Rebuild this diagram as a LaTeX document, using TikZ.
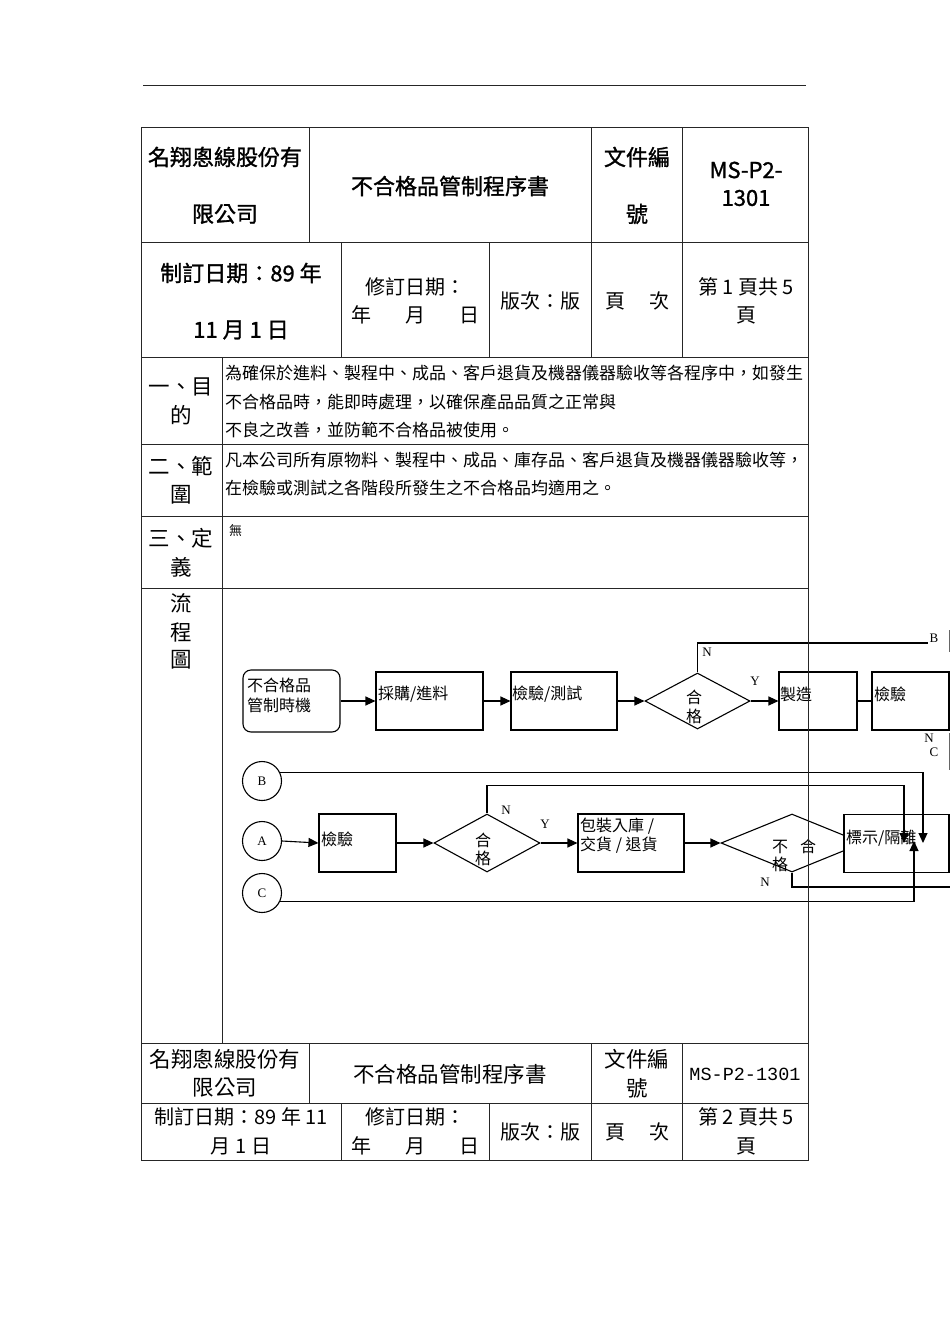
\documentclass[tikz,border=0pt]{standalone}
\usepackage{fontspec}
\setmainfont{Noto Sans CJK TC}
\newfontfamily\hdfont[FakeBold=1.2]{Noto Sans CJK TC}
\newfontfamily\lser{Liberation Serif}
\newfontfamily\lmono{Liberation Mono}
\usetikzlibrary{shapes.geometric,arrows.meta}
\begin{document}
\begin{tikzpicture}[x=1pt,y=-1pt,
  tl/.style={line width=0.9pt, draw=black!85},
  th/.style={inner sep=0pt, font=\hdfont\fontsize{22}{22}\selectfont},
  tx/.style={inner sep=0pt, font=\fontsize{21.5}{21.5}\selectfont},
  tm/.style={inner sep=0pt, font=\fontsize{20}{20}\selectfont},
  bd/.style={inner sep=0pt, anchor=west, font=\fontsize{17}{17}\selectfont},
  ft/.style={inner sep=0pt, anchor=west, font=\fontsize{16}{16}\selectfont},
  fc/.style={inner sep=0pt, font=\fontsize{16}{16}\selectfont},
  lb/.style={inner sep=0pt, font=\lser\fontsize{13}{13}\selectfont},
  bx/.style={draw, line width=1.1pt, inner sep=0pt},
  fl/.style={line width=1.1pt},
  arr/.style={line width=1.1pt, -{Triangle[length=10pt,width=9pt]}}]
\useasboundingbox (0,0) rectangle (950,1344);
\clip (0,0) rectangle (950,1344);
\fill[white] (0,0) rectangle (950,1344);

% top rule
\draw[tl] (143,85) -- (806,85);

% ---------- header row 1
\node[th] (h1a) at (225,157) {名翔悤線股份有};
\node[th] (h1b) at (225,214) {限公司};
\node[th] (h1c) at (450,186) {不合格品管制程序書};
\node[th] (h1d) at (637,157) {文件編};
\node[th] (h1e) at (637,214) {號};
\node[th] (h1f) at (746,170) {MS-P2-};
\node[th] (h1g) at (746,198) {1301};
% ---------- header row 2
\node[th] (h2a) at (241,273) {制訂日期：89 年};
\node[th] (h2b) at (241,330) {11 月 1 日};
\node[tm] (h2c) at (415,287) {修訂日期：};
\node[tm] (h2d) at (415,315) {年\hspace{34pt}月\hspace{34pt}日};
\node[tm] (h2e) at (540,301) {版次：版};
\node[tm] (h2f) at (637,301) {頁\hspace{24pt}次};
\node[tm] (h2g) at (746,287) {第 1 頁共 5};
\node[tm] (h2h) at (746,315) {頁};

% ---------- sections
\node[tx] (s1a) at (181,387) {一、目};
\node[tx] (s1b) at (181,415) {的};
\node[bd] (s1c) at (225,373) {為確保於進料、製程中、成品、客戶退貨及機器儀器驗收等各程序中，如發生};
\node[bd] (s1d) at (225,402) {不合格品時，能即時處理，以確保產品品質之正常與};
\node[bd] (s1e) at (225,430) {不良之改善，並防範不合格品被使用。};
\node[tx] (s2a) at (181,466) {二、範};
\node[tx] (s2b) at (181,495) {圍};
\node[bd] (s2c) at (225,460) {凡本公司所有原物料、製程中、成品、庫存品、客戶退貨及機器儀器驗收等，};
\node[bd] (s2d) at (225,488) {在檢驗或測試之各階段所發生之不合格品均適用之。};
\node[tx] (s3a) at (181,538) {三、定};
\node[tx] (s3b) at (181,567) {義};
\node[inner sep=0pt, anchor=west, font=\fontsize{13}{13}\selectfont] (s3c) at (229,531) {無};
\node[tx] (s4a) at (181,603) {流};
\node[tx] (s4b) at (181,632) {程};
\node[tx] (s4c) at (181,660) {圖};

% ---------- flowchart top row
\node[bx, rounded corners=8pt, minimum width=97pt, minimum height=62pt] (st) at (291.5,701) {};
\node[ft] (stt1) at (247,685) {不合格品};
\node[ft] (stt2) at (247,705) {管制時機};
\node[bx, minimum width=107pt, minimum height=58pt] (p1) at (429.5,701) {};
\node[ft] (p1t) at (378,694) {採購/進料};
\node[bx, minimum width=106pt, minimum height=58pt] (p2) at (564,701) {};
\node[ft] (p2t) at (512,694) {檢驗/測試};
\node[bx, diamond, minimum width=105pt, minimum height=56pt] (d1) at (697.5,701) {};
\node[fc] (d1t1) at (694,697) {合};
\node[fc] (d1t2) at (694,716) {格};
\node[bx, minimum width=78pt, minimum height=58pt] (mf) at (818,701) {};
\node[ft] (mft) at (780,694) {製造};
\node[bx, minimum width=77pt, minimum height=58pt] (ck) at (910.5,701) {};
\node[ft] (ckt) at (874,694) {檢驗};

\draw[arr] (st.east) -- (p1.west);
\draw[arr] (p1.east) -- (p2.west);
\draw[arr] (p2.east) -- (d1.west);
\draw[arr] (d1.east) -- (mf.west);
\draw[fl] (mf.east) -- (ck.west);
\coordinate (bB) at (928,643);
\draw[fl] (d1.north) |- (bB);
\node[lb] (lN1) at (707,652) {N};
\node[lb] (lY1) at (755,681) {Y};
\node[lb] (lB1) at (934,638) {B};
\node[lb] (lN2) at (929,738) {N};
\node[lb] (lC2) at (934,752) {C};
\draw[line width=0.6pt, black!60] (949.5,630) -- (949.5,652);
\draw[line width=0.6pt, black!60] (949.5,733) -- (949.5,770);

% ---------- flowchart bottom rows
\node[bx, circle, minimum size=39pt, lb] (cB) at (262,781) {B};
\node[bx, circle, minimum size=39pt, lb] (cA) at (262,841) {A};
\node[bx, circle, minimum size=39pt, lb] (cC) at (262,893) {C};
\node[bx, minimum width=77pt, minimum height=58pt] (k2) at (357.5,843) {};
\node[ft] (k2t) at (321,839) {檢驗};
\node[bx, diamond, minimum width=106pt, minimum height=58pt] (d2) at (487,843) {};
\node[fc] (d2t1) at (483,840) {合};
\node[fc] (d2t2) at (483,858) {格};
\node[bx, minimum width=106pt, minimum height=58pt] (pk) at (631,843) {};
\node[ft] (pkt1) at (580,826) {包裝入庫 /};
\node[ft] (pkt2) at (580,845) {交貨 / 退貨};
\node[bx, diamond, minimum width=142pt, minimum height=58pt] (d3) at (792,843) {};
\node[fc] (d3t1) at (794,846) {不\hspace{12pt}合};
\node[fc] (d3t2) at (780,864) {格};
\node[bx, fill=white, minimum width=105pt, minimum height=58pt] (iso) at (896.5,843.5) {};
\node[ft] (isot) at (846,838) {標示/隔離};

\draw[arr] (cA.east) -- (k2.west);
\draw[arr] (k2.east) -- (d2.west);
\draw[arr] (d2.east) -- (pk.west);
\draw[arr] (pk.east) -- (d3.west);
\coordinate (tB) at (923,843);
\coordinate (tN) at (904,843);
\coordinate (tC) at (914,841);
\coordinate (dEnd) at (960,887);
\draw[arr] (cB.24) -| (tB);
\draw[arr] (d2.north) -- ++(0,-28) -| (tN);
\draw[arr] (cC.-24) -| (tC);
\draw[fl] (d3.south) |- (dEnd);
\node[lb] (lN3) at (506,810) {N};
\node[lb] (lY3) at (545,824) {Y};
\node[lb] (lN4) at (765,882) {N};

% ---------- footer
\node[tx] (f1a) at (225,1059) {名翔悤線股份有};
\node[tx] (f1b) at (225,1088) {限公司};
\node[tx] (f1c) at (450,1074) {不合格品管制程序書};
\node[tx] (f1d) at (637,1059) {文件編};
\node[tx] (f1e) at (637,1088) {號};
\node[inner sep=0pt, font=\lmono\fontsize{18.5}{18.5}\selectfont] (f1f) at (745,1074) {MS-P2-1301};
\node[tm] (f2a) at (241,1117) {制訂日期：89 年 11};
\node[tm] (f2b) at (241,1146) {月 1 日};
\node[tm] (f2c) at (415,1117) {修訂日期：};
\node[tm] (f2d) at (415,1146) {年\hspace{34pt}月\hspace{34pt}日};
\node[tm] (f2e) at (540,1132) {版次：版};
\node[tm] (f2f) at (637,1132) {頁\hspace{24pt}次};
\node[tm] (f2g) at (746,1117) {第 2 頁共 5};
\node[tm] (f2h) at (746,1146) {頁};

% ---------- table lines
\draw[tl] (141,127) rectangle (808,1160);
\foreach \yy in {242,357,444,516,588,1043,1103} \draw[tl] (141,\yy) -- (808,\yy);
\foreach \xx in {309,591,682} \draw[tl] (\xx,127) -- (\xx,242);
\foreach \xx in {341,489,591,682} \draw[tl] (\xx,242) -- (\xx,357);
\draw[tl] (222,357) -- (222,1043);
\foreach \xx in {309,591,682} \draw[tl] (\xx,1043) -- (\xx,1103);
\foreach \xx in {341,489,591,682} \draw[tl] (\xx,1103) -- (\xx,1160);
\end{tikzpicture}
\end{document}
